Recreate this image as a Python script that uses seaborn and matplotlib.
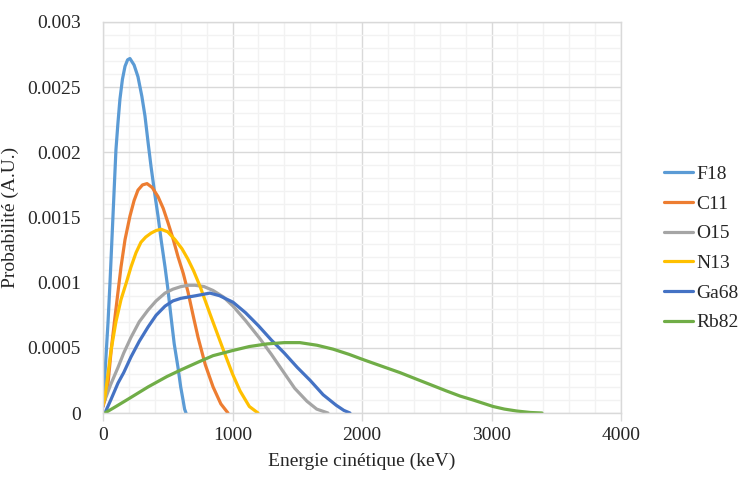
import matplotlib
matplotlib.use("Agg")
import matplotlib.pyplot as plt
from matplotlib.ticker import MultipleLocator, FuncFormatter
import seaborn as sns
import pandas as pd

# spectres beta+ (keV, probabilité)
f18_e = [0, 15, 39, 54, 77, 100, 115, 131, 150, 170, 190, 208, 240, 270, 300, 324, 350,
         371, 400, 425, 450, 479, 500, 525, 550, 579, 600, 618, 630, 641]
f18_p = [0.00005, 0.00030, 0.00070, 0.00100, 0.00151, 0.00202, 0.00222, 0.00241, 0.00256,
         0.00266, 0.00271, 0.00272, 0.00267, 0.00258, 0.00243, 0.00228, 0.00206, 0.00189,
         0.00168, 0.00151, 0.00132, 0.00112, 0.00096, 0.00074, 0.00053, 0.00035, 0.00020,
         0.00010, 0.00003, 0.0]

c11_e = [0, 15, 39, 65, 93, 139, 170, 208, 240, 270, 305, 340, 380, 425, 465, 502, 540,
         579, 620, 656, 700, 734, 790, 850, 910, 965]
c11_p = [0.00005, 0.00010, 0.00023, 0.00050, 0.00074, 0.00112, 0.00133, 0.00151, 0.00163,
         0.00171, 0.00175, 0.00176, 0.00173, 0.00166, 0.00157, 0.00146, 0.00134, 0.00120,
         0.00107, 0.00093, 0.00073, 0.00058, 0.00037, 0.00020, 0.00007, 0.0]

o15_e = [0, 15, 60, 116, 160, 216, 280, 348, 410, 479, 540, 602, 660, 710, 780, 850, 930,
         1004, 1100, 1212, 1300, 1390, 1480, 1575, 1650, 1737]
o15_p = [0.00008, 0.00010, 0.00022, 0.00035, 0.00046, 0.00058, 0.00070, 0.00079, 0.00086,
         0.00092, 0.00095, 0.00097, 0.00098, 0.00098, 0.00097, 0.00094, 0.00089, 0.00082,
         0.00071, 0.00057, 0.00045, 0.00032, 0.00019, 0.00009, 0.00003, 0.0]

n13_e = [0, 15, 62, 100, 139, 180, 216, 255, 293, 330, 371, 410, 448, 500, 556, 610, 656,
         700, 750, 830, 927, 1000, 1058, 1130, 1197]
n13_p = [0.00006, 0.00012, 0.00048, 0.00070, 0.00087, 0.00100, 0.00112, 0.00123, 0.00131,
         0.00135, 0.00138, 0.00140, 0.00141, 0.00139, 0.00133, 0.00126, 0.00118, 0.00109,
         0.00097, 0.00075, 0.00049, 0.00030, 0.00017, 0.00005, 0.0]

ga68_e = [15, 60, 116, 160, 216, 280, 348, 410, 479, 540, 602, 660, 718, 770, 826, 900,
          1004, 1100, 1200, 1300, 1400, 1500, 1600, 1700, 1800, 1860, 1907]
ga68_p = [0.0, 0.00010, 0.00023, 0.00031, 0.00043, 0.00055, 0.00066, 0.00075, 0.00082,
          0.00086, 0.00088, 0.00089, 0.00090, 0.00091, 0.00092, 0.00090, 0.00085, 0.00077,
          0.00067, 0.00056, 0.00046, 0.00035, 0.00025, 0.00014, 0.00006, 0.00002, 0.0]

rb82_e = [15, 100, 200, 348, 494, 600, 734, 850, 1004, 1130, 1266, 1400, 1520, 1652, 1776,
          1900, 2008, 2150, 2293, 2420, 2548, 2650, 2757, 2857, 3012, 3100, 3197, 3300, 3390]
rb82_p = [0.0, 0.00005, 0.00011, 0.00020, 0.00028, 0.00033, 0.00039, 0.00044, 0.00048,
          0.00051, 0.00053, 0.00054, 0.00054, 0.00052, 0.00049, 0.00045, 0.00041, 0.00036,
          0.00031, 0.00026, 0.00021, 0.00017, 0.00013, 0.00010, 0.00005, 0.00003, 0.000015,
          0.000004, 0.0]

isotopes = ["F18", "C11", "O15", "N13", "Ga68", "Rb82"]
energies = [f18_e, c11_e, o15_e, n13_e, ga68_e, rb82_e]
probas = [f18_p, c11_p, o15_p, n13_p, ga68_p, rb82_p]
colors = ["#5B9BD5", "#ED7D31", "#A5A5A5", "#FFC000", "#4472C4", "#70AD47"]

df = pd.concat(
    [pd.DataFrame({"E": e, "P": p, "iso": name}) for name, e, p in zip(isotopes, energies, probas)],
    ignore_index=True,
)

sns.set_style("white")
plt.rcParams["font.family"] = ["Liberation Serif", "DejaVu Serif"]

fig = plt.figure(figsize=(7.4, 4.78), dpi=100)
ax = fig.add_axes([103 / 740, 65 / 478, 518 / 740, 391 / 478])

sns.lineplot(data=df, x="E", y="P", hue="iso", hue_order=isotopes,
             palette=dict(zip(isotopes, colors)), estimator=None, sort=False,
             linewidth=2.3, ax=ax)
for ln in ax.get_lines():
    ln.set_solid_joinstyle("round")

ax.set_xlim(0, 4000)
ax.set_ylim(0, 0.003)
ax.xaxis.set_major_locator(MultipleLocator(1000))
ax.xaxis.set_minor_locator(MultipleLocator(200))
ax.yaxis.set_major_locator(MultipleLocator(0.0005))
ax.yaxis.set_minor_locator(MultipleLocator(0.0001))
ax.yaxis.set_major_formatter(FuncFormatter(lambda v, pos: f"{v:g}"))
ax.xaxis.set_major_formatter(FuncFormatter(lambda v, pos: f"{v:g}"))

ax.grid(which="major", color="#D9D9D9", linewidth=1.0)
ax.grid(which="minor", color="#F2F2F2", linewidth=1.0)
ax.set_axisbelow(True)
for s in ax.spines.values():
    s.set_color("#D9D9D9")
    s.set_linewidth(1.0)

ax.tick_params(axis="x", which="major", length=6, color="#D9D9D9", width=1.0,
               labelsize=14, pad=4, bottom=True)
ax.tick_params(axis="x", which="minor", length=0)
ax.tick_params(axis="y", which="both", length=0, labelsize=14, pad=16)

ax.set_xlabel("Energie cinétique (keV)", fontsize=14, labelpad=6)
ax.set_ylabel("Probabilité (A.U.)", fontsize=14, labelpad=6)

sns.move_legend(ax, "center left", bbox_to_anchor=(1.083, 0.421), frameon=False,
                title=None, fontsize=14, handlelength=1.5, handletextpad=0.15,
                labelspacing=0.62, borderpad=0, borderaxespad=0)

fig.savefig("out.png", dpi=100)
